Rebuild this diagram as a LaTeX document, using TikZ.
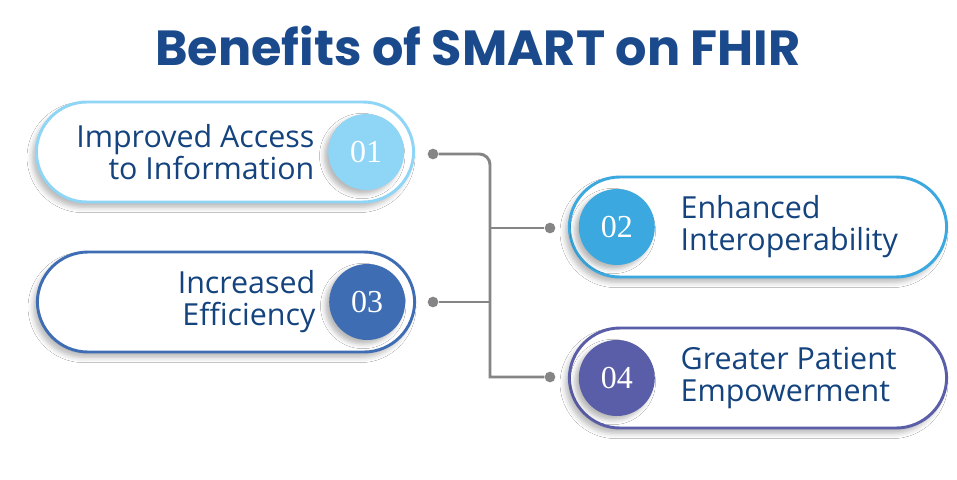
\documentclass[tikz,border=0pt]{standalone}
\usepackage{fontspec}
\usepackage{xcolor}
\usepackage{tikz}
\usetikzlibrary{positioning,shadows.blur}
\setmainfont{Open Sans}
\newfontfamily\headfont{Poppins}
\newfontfamily\numfont{Liberation Serif}
\definecolor{titleBlue}{HTML}{1B4A8C}
\definecolor{textBlue}{HTML}{14437E}
\definecolor{skyLight}{HTML}{8FD5F6}
\definecolor{skyBlue}{HTML}{3BA8DF}
\definecolor{royalBlue}{HTML}{3F6DB4}
\definecolor{violetBlue}{HTML}{5A5DA8}
\definecolor{lineGray}{HTML}{858585}

\begin{document}
\begin{tikzpicture}[
  x=0.75pt, y=-0.75pt,
  pill/.style={rectangle, rounded corners=38pt, draw=#1, line width=2.2pt, fill=white, minimum width=283pt, minimum height=75pt, blur shadow={shadow xshift=-3pt, shadow yshift=-4pt, shadow blur radius=4pt, shadow opacity=28}},
  badge/.style={circle, fill=#1, minimum size=57pt, inner sep=0pt, text=white, font=\numfont\fontsize{24}{24}\selectfont, blur shadow={shadow xshift=-3pt, shadow yshift=-3pt, shadow blur radius=3.5pt, shadow opacity=28}},
  itemtext/.style={text=textBlue, font=\fontsize{22.8}{24}\selectfont, inner sep=0pt},
  knob/.style={circle, fill=lineGray, minimum size=8pt, inner sep=0pt},
  link/.style={draw=lineGray, line width=2.2pt}
]
\useasboundingbox[fill=white] (0,0) rectangle (957,479);
\node[font=\headfont\bfseries\fontsize{37}{40}\selectfont, text=titleBlue] (title) at (478,46) {Benefits of SMART on FHIR};

\node[pill=skyLight] (p1) at (225,152) {};
\node[pill=skyBlue] (p2) at (758,227) {};
\node[pill=royalBlue] (p3) at (226,302) {};
\node[pill=violetBlue] (p4) at (758,378) {};

\node[badge=skyLight, left=8pt of p1.east] (b1) {01};
\node[badge=skyBlue, right=8pt of p2.west] (b2) {02};
\node[badge=royalBlue, left=8pt of p3.east] (b3) {03};
\node[badge=violetBlue, right=8pt of p4.west] (b4) {04};

\node[itemtext, align=right, left=10pt of b1] (t1) {Improved Access\\to Information};
\node[itemtext, align=left, right=19pt of b2] (t2) {Enhanced\\Interoperability};
\node[itemtext, align=right, left=10pt of b3] (t3) {Increased\\Efficiency};
\node[itemtext, align=left, right=19pt of b4] (t4) {Greater Patient\\Empowerment};

\node[knob] (d1) at (433,154) {};
\node[knob] (d2) at (550,228) {};
\node[knob] (d3) at (433,302) {};
\node[knob] (d4) at (550,377) {};
\coordinate (trunkTop) at (490,154);
\coordinate (trunkBot) at (490,377);

\draw[link] (d1) [rounded corners=8pt] -- (trunkTop) [sharp corners] -- (trunkBot) -- (d4);
\draw[link] (d3) -- (d3 -| trunkTop);
\draw[link] (d2 -| trunkTop) -- (d2);
\end{tikzpicture}
\end{document}
